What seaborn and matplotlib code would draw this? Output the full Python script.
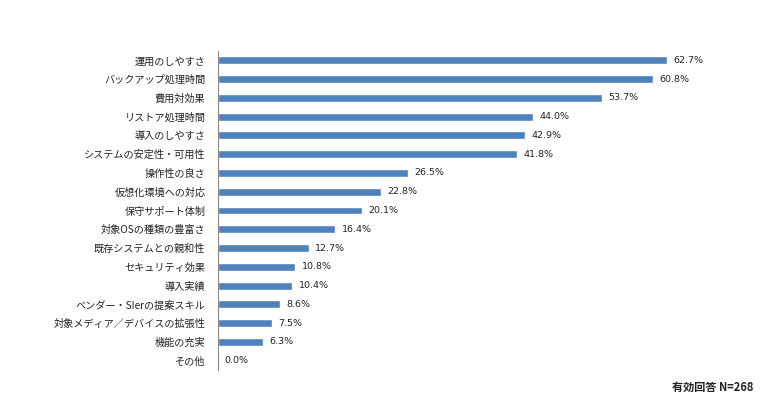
import matplotlib
matplotlib.use("Agg")
import matplotlib.pyplot as plt
import seaborn as sns
import pandas as pd

labels = ["運用のしやすさ", "バックアップ処理時間", "費用対効果", "リストア処理時間",
          "導入のしやすさ", "システムの安定性・可用性", "操作性の良さ", "仮想化環境への対応",
          "保守サポート体制", "対象OSの種類の豊富さ", "既存システムとの親和性", "セキュリティ効果",
          "導入実績", "ベンダー・SIerの提案スキル", "対象メディア／デバイスの拡張性", "機能の充実", "その他"]
values = [62.7, 60.8, 53.7, 44.0, 42.9, 41.8, 26.5, 22.8, 20.1, 16.4, 12.7, 10.8, 10.4, 8.6, 7.5, 6.3, 0.0]
note = "有効回答 N=268"

df = pd.DataFrame({"item": labels, "pct": values})

sns.set_theme(style="white")
plt.rcParams['font.family'] = ['Noto Sans CJK JP', 'DejaVu Sans']

fig = plt.figure(figsize=(7.8, 4.07), dpi=100)
ax = fig.add_axes([0.2795, 0.0909, 0.6423, 0.7838])

sns.barplot(data=df, x="pct", y="item", orient="h", color="#4F81BD",
            saturation=1, width=0.42, ax=ax)

# value labels to the right of each bar
for i, v in enumerate(values):
    ax.text(v + 0.9, i, f"{v:.1f}%", va="center", ha="left", fontsize=6.8,
            family="DejaVu Sans", color="#222222")

ax.set_xlim(0, 70)
ax.set_ylim(len(values) - 0.5, -0.5)
ax.set_xlabel("")
ax.set_ylabel("")
ax.set_xticks([])
ax.tick_params(axis="y", length=0, pad=9, labelsize=7.3, labelcolor="#222222")
for s in ["top", "right", "bottom"]:
    ax.spines[s].set_visible(False)
ax.spines["left"].set_color("#888888")
ax.spines["left"].set_linewidth(0.8)

fig.text(0.966, 0.047, note, ha="right", va="center", fontsize=8, fontweight="bold", color="#222222")

fig.savefig("out.png", dpi=100, facecolor="white")
